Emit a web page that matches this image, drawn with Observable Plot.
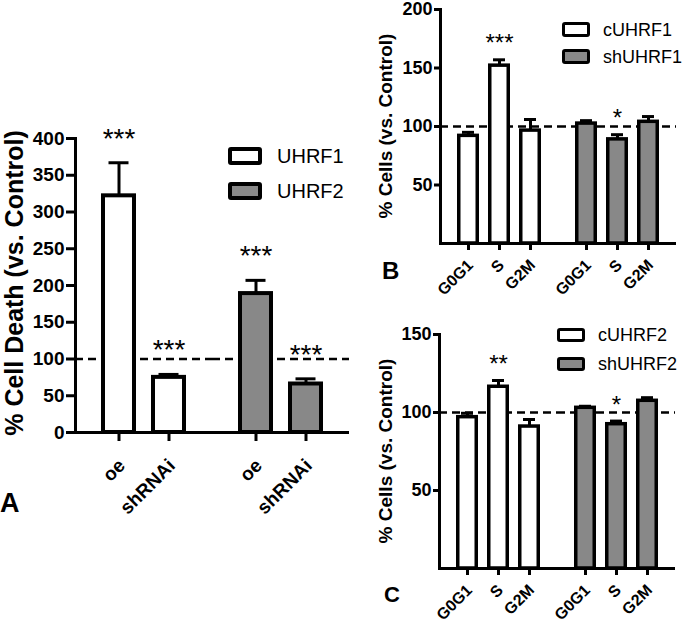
<!DOCTYPE html>
<html><head><meta charset="utf-8">
<script src="https://cdn.jsdelivr.net/npm/d3@7"></script>
<script src="https://cdn.jsdelivr.net/npm/@observablehq/plot@0.6"></script>
<style>
body{margin:0;background:#fff;}
#fig{position:relative;width:685px;height:625px;background:#fff;font-family:"Liberation Sans",Arial,sans-serif;color:#000;display:flex;align-items:flex-start}
#colA{width:360px;flex:none}
#colBC{width:315px;margin-left:10px;flex:none;display:flex;flex-direction:column}
.ytitle{position:absolute;font-weight:bold;white-space:nowrap;transform:translate(-50%,-50%) rotate(-90deg);line-height:1}
.letter{position:absolute;font-weight:bold;line-height:1}
.leg{position:absolute;display:flex;align-items:center;white-space:nowrap;line-height:1}
.box{box-sizing:border-box;border:solid #000;border-radius:3px;flex:none}
</style></head><body><div id="fig"><div id="colA"></div><div id="colBC"></div></div>
<script>
// ---------- data ----------
const groupsA = ["UHRF1", "UHRF2"];
const treatA = ["oe", "shRNAi"];
const valuesA = [322, 75, 189, 66];
const errA = [45, 4, 18, 7];
const starsA = ["***", "***", "***", "***"];
const ticksA = [0, 50, 100, 150, 200, 250, 300, 350, 400];

const phases = ["G0G1", "S", "G2M"];
const groupsB = ["cUHRF1", "shUHRF1"];
const valuesB = [92, 152, 96.5, 102.5, 89, 104];
const errB = [3, 5, 9.5, 2.5, 4, 4.5];
const starsB = ["", "***", "", "", "*", ""];
const ticksB = [50, 100, 150, 200];

const groupsC = ["cUHRF2", "shUHRF2"];
const valuesC = [97, 116.5, 91, 103, 92.5, 107.5];
const errC = [2.5, 4, 4.5, 1, 2, 2];
const starsC = ["", "**", "", "", "*", ""];
const ticksC = [50, 100, 150];

const fills = ["#ffffff", "#888888"];
const refValue = 100;

function table(groups, cats, values, errs, stars) {
  return groups.flatMap((g, i) => cats.map((c, j) => {
    const k = i * cats.length + j;
    return {group: g, cat: c, value: values[k], upper: values[k] + errs[k], star: stars[k]};
  }));
}

const fig = document.getElementById("fig");
const FONT = "Liberation Sans";

function panel(cfg) {
  const data = table(cfg.groups, cfg.cats, cfg.values, cfg.errs, cfg.stars);
  const sw = cfg.barStroke;
  const svg = Plot.plot({
    width: cfg.width, height: cfg.height,
    marginTop: cfg.mt, marginBottom: cfg.mb, marginLeft: cfg.ml, marginRight: cfg.mr,
    style: {fontFamily: FONT, fontWeight: "bold", background: "transparent", overflow: "visible", color: "black"},
    fx: {domain: cfg.groups, padding: 0, axis: null, label: null},
    x: {domain: cfg.cats, paddingInner: cfg.pi, paddingOuter: 0.5, label: null},
    y: {domain: cfg.yDomain, label: null},
    color: {domain: cfg.groups, range: fills},
    marks: [
      Plot.ruleY([refValue], {stroke: "black", strokeWidth: 2.5, strokeDasharray: "8,5"}),
      Plot.ruleX(data, {fx: "group", x: "cat", y1: "value", y2: "upper", stroke: "black", strokeWidth: 3}),
      Plot.tickY(data, {fx: "group", x: "cat", y: "upper", stroke: "black", strokeWidth: 3, insetLeft: cfg.capInset, insetRight: cfg.capInset}),
      Plot.barY(data, {fx: "group", x: "cat", y: "value", fill: "group", stroke: "black", strokeWidth: sw, insetLeft: sw / 2, insetRight: sw / 2}),
      Plot.text(data.filter(d => d.star), {fx: "group", x: "cat", y: "upper", text: "star", dy: cfg.starDy, fontSize: cfg.starSize, fontWeight: "normal", fill: "black"}),
      Plot.ruleY([0], {stroke: "black", strokeWidth: 3}),
      Plot.frame({anchor: "left", facetAnchor: "left", stroke: "black", strokeWidth: 3}),
      Plot.axisY({ticks: cfg.yTicks, tickSize: cfg.yTickSize, tickPadding: cfg.yTickPad, strokeWidth: 3, fontSize: cfg.yFont, fontWeight: "bold", label: null}),
      Plot.axisX({tickSize: cfg.xTickSize, tickFormat: () => "", strokeWidth: 3, label: null}),
      Plot.text(cfg.cats, {x: d => d, frameAnchor: "bottom", text: d => d, rotate: -45, textAnchor: "end", lineAnchor: "middle",
        dx: cfg.xdx, dy: cfg.xdy, fontSize: cfg.xFont, fontWeight: "bold", fill: "black"})
    ]
  });
  document.getElementById(cfg.holder).appendChild(svg);

  // y title
  const t = document.createElement("div");
  t.className = "ytitle";
  t.textContent = cfg.title;
  t.style.fontSize = cfg.titleSize + "px";
  t.style.left = cfg.titleX + "px";
  t.style.top = cfg.titleY + "px";
  fig.appendChild(t);

  // legend
  cfg.groups.forEach((g, i) => {
    const row = document.createElement("div");
    row.className = "leg";
    row.style.left = cfg.leg.x + "px";
    row.style.top = (cfg.leg.y + i * cfg.leg.dy) + "px";
    row.style.height = cfg.leg.h + "px";
    row.style.fontSize = cfg.leg.font + "px";
    const b = document.createElement("div");
    b.className = "box";
    b.style.width = cfg.leg.w + "px";
    b.style.height = cfg.leg.h + "px";
    b.style.borderWidth = cfg.leg.bw + "px";
    b.style.background = fills[i];
    b.style.marginRight = cfg.leg.gap + "px";
    const s = document.createElement("span");
    s.textContent = g;
    row.appendChild(b); row.appendChild(s);
    fig.appendChild(row);
  });

  // panel letter
  const L = document.createElement("div");
  L.className = "letter";
  L.textContent = cfg.letter;
  L.style.fontSize = cfg.letterSize + "px";
  L.style.left = cfg.letterX + "px";
  L.style.top = cfg.letterY + "px";
  fig.appendChild(L);
}

panel({
  holder: "colA",
  groups: groupsA, cats: treatA, values: valuesA, errs: errA, stars: starsA,
  width: 360, height: 520, mt: 138, mb: 88, ml: 75, mr: 11,
  pi: 0.31, yDomain: [0, 400], yTicks: ticksA, barStroke: 4, capInset: 7.5,
  starDy: -24, starSize: 28, yTickSize: 9, yTickPad: 2, yFont: 19,
  xTickSize: 9, xdy: 30, xdx: 3, xFont: 19,
  title: "% Cell Death (vs. Control)", titleSize: 25, titleX: 13.5, titleY: 283,
  leg: {x: 228, y: 147, dy: 35, w: 34, h: 18, bw: 4, gap: 15, font: 20},
  letter: "A", letterSize: 27, letterX: 0, letterY: 490
});

panel({
  holder: "colBC",
  groups: groupsB, cats: phases, values: valuesB, errs: errB, stars: starsB,
  width: 315, height: 310, mt: 9, mb: 67, ml: 70, mr: 9,
  pi: 0.28, yDomain: [0, 200], yTicks: ticksB, barStroke: 3.5, capInset: 5,
  starDy: -16, starSize: 24, yTickSize: 6, yTickPad: 2, yFont: 18,
  xTickSize: 7, xdy: 19, xdx: 2, xFont: 16,
  title: "% Cells (vs. Control)", titleSize: 19, titleX: 385, titleY: 126,
  leg: {x: 562, y: 22, dy: 27, w: 28, h: 15, bw: 3.5, gap: 13, font: 18},
  letter: "B", letterSize: 24, letterX: 382, letterY: 259
});

panel({
  holder: "colBC",
  groups: groupsC, cats: phases, values: valuesC, errs: errC, stars: starsC,
  width: 315, height: 315, mt: 24, mb: 57, ml: 69, mr: 10,
  pi: 0.28, yDomain: [0, 150], yTicks: ticksC, barStroke: 3.5, capInset: 5,
  starDy: -16, starSize: 24, yTickSize: 6, yTickPad: 2, yFont: 18,
  xTickSize: 7, xdy: 19, xdx: 2, xFont: 16,
  title: "% Cells (vs. Control)", titleSize: 19, titleX: 385, titleY: 451,
  leg: {x: 557, y: 328, dy: 29, w: 28, h: 14, bw: 3.5, gap: 13, font: 18},
  letter: "C", letterSize: 22, letterX: 384, letterY: 584
});
</script></body></html>
